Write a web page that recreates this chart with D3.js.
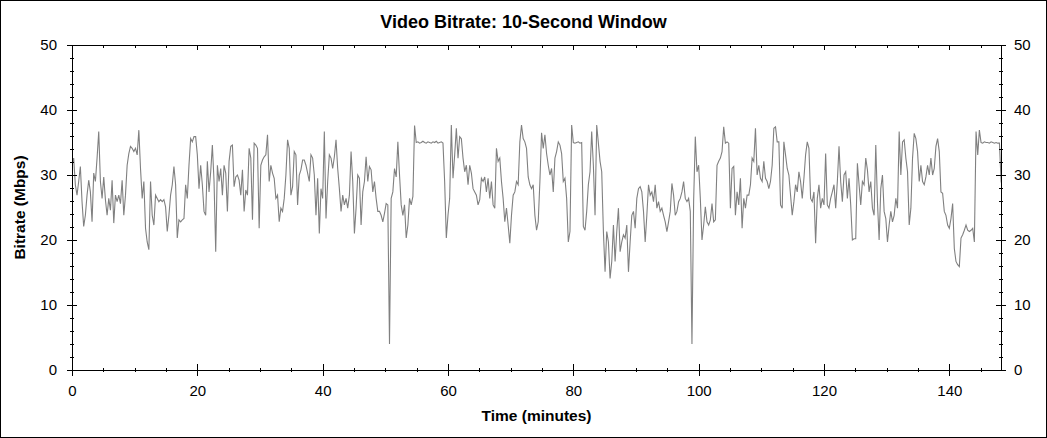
<!DOCTYPE html>
<html>
<head>
<meta charset="utf-8">
<script src="https://cdn.jsdelivr.net/npm/d3@7"></script>
<style>
    body { margin: 0; background: #fff; }
    svg { display: block; font-family: Arial, "Liberation Sans", sans-serif; }
</style>
</head>
<body>
<svg width="1047" height="438"></svg>
<script>
const svg = d3.select("svg");
const width = 1047;
const height = 438;

//////////// DATA ////////////

// one reading every 16 seconds (10-second window average), Mbps
const sampleSeconds = 16;
const bitrate = [
    31.5, 32.6, 28.5, 26.9, 29.0, 31.3, 25.9, 22.1, 23.8, 26.9,
    29.2, 27.4, 22.8, 30.3, 29.0, 32.6, 36.7, 29.0, 26.4, 29.7,
    26.2, 23.8, 26.4, 24.6, 29.2, 22.6, 26.9, 25.9, 26.9, 25.6,
    29.2, 23.8, 26.9, 31.5, 33.3, 34.4, 34.1, 33.6, 34.1, 33.1,
    36.9, 31.0, 26.4, 29.0, 21.8, 19.7, 18.5, 29.0, 23.8, 22.3,
    26.9, 26.4, 25.9, 26.2, 25.9, 26.2, 25.1, 21.3, 23.8, 26.9,
    28.5, 31.3, 28.5, 20.3, 23.1, 22.8, 23.1, 23.3, 28.5, 26.4,
    31.5, 35.6, 35.1, 35.9, 35.9, 33.1, 27.9, 31.5, 28.5, 24.4,
    23.8, 32.1, 27.4, 30.5, 34.6, 29.0, 18.2, 31.5, 29.0, 31.0,
    26.9, 31.5, 30.3, 24.4, 32.1,
    34.4, 34.6, 28.2, 29.7, 30.0, 29.2, 26.9, 30.8, 24.4, 27.7,
    26.9, 34.1, 32.6, 23.1, 34.9, 34.6, 34.1, 21.8, 31.5, 32.3,
    32.8, 33.1, 36.2, 29.0, 31.5, 30.3, 29.5, 26.4, 26.9, 22.8,
    24.9, 24.4, 26.4, 30.0, 35.4, 34.1, 26.9, 28.2, 33.6, 33.1,
    25.4, 30.0, 30.8, 32.3, 32.3, 31.5, 30.3, 29.0, 33.1, 32.6,
    30.0, 23.8, 29.5, 21.0, 27.9, 26.4, 36.7, 23.3, 29.0, 33.1,
    32.6, 31.0, 32.8, 35.4, 31.0, 27.9, 24.4, 26.9, 25.4, 26.4,
    24.9, 26.9, 33.6, 29.0, 21.0, 24.9, 30.0, 29.5, 22.3, 27.4,
    29.0, 32.8, 29.0, 31.3, 30.8, 27.4, 29.0, 26.4, 24.4, 24.4,
    23.8, 22.8, 24.1,
    25.6, 25.4, 4.0, 26.4, 27.4, 31.0, 29.7, 35.1, 30.0, 25.4,
    23.8, 25.4, 20.3, 22.3, 26.4, 25.4, 26.7, 37.6,
    35.0, 35.1, 34.9, 35.0, 35.2, 35.0, 34.9, 35.1, 35.0, 34.9,
    35.1, 35.0, 35.2, 34.9, 35.0, 35.1, 34.9,
    29.0, 20.3, 23.8, 26.4, 37.7, 29.5, 33.1, 37.2, 32.6, 35.9,
    35.6, 32.6, 30.5, 31.5, 28.5, 31.5, 30.3, 27.9, 27.4, 26.9,
    25.4, 26.2, 29.5, 29.0, 29.7, 27.4, 29.5, 26.4, 29.0, 25.4,
    24.9, 34.1, 32.1, 32.6, 29.0, 26.4, 22.8, 24.9, 22.3, 19.5,
    23.8, 26.9, 27.4, 29.0, 28.5, 35.1, 37.7, 35.6, 35.1, 34.1,
    29.7, 28.5, 27.9, 28.5, 23.8, 21.5, 22.8, 29.0,
    36.5, 34.1, 36.2, 33.3, 31.5, 30.0, 31.0, 27.4, 32.6, 33.6,
    35.1, 34.6, 33.3, 29.0, 29.5, 26.4, 19.7, 21.3, 37.7,
    35.0, 34.9, 35.0, 35.1, 34.9, 35.0,
    22.1, 21.5, 24.4, 28.5, 30.5, 36.7, 31.5, 23.8, 37.7, 34.9,
    32.1, 30.5, 21.3, 15.1, 21.3, 19.7, 14.1, 16.7, 22.3, 16.7,
    21.3, 24.9, 18.2, 19.7, 20.8, 20.3, 22.3, 15.1, 19.7, 23.8,
    24.4, 21.8, 26.4, 27.9, 28.2, 27.4, 24.4, 19.7, 23.8, 28.5,
    26.9, 27.4, 25.9, 28.5, 24.9, 25.9, 24.4, 24.9, 23.8, 22.8,
    21.3, 22.8, 24.4, 28.7, 26.9, 23.8, 24.4, 25.9, 26.4, 27.4,
    29.0, 26.4, 25.9, 26.4, 24.4, 4.0, 26.0, 35.9,
    30.5, 31.5, 26.4, 20.0, 22.3, 25.1, 22.8, 22.3, 23.1, 25.6,
    22.8, 23.1, 31.5, 32.1, 32.6, 33.6, 37.4, 34.9, 35.1, 34.9,
    24.9, 31.0, 31.3, 23.8, 27.4, 25.4, 29.5, 21.8, 26.4, 24.9,
    26.9, 26.9, 28.5, 32.6, 32.1, 37.2, 30.0, 31.5, 29.5, 29.0,
    32.1, 29.5, 29.0, 27.9, 29.0, 31.5, 37.2, 37.4, 35.1, 35.1,
    25.4, 24.9, 35.1, 33.1, 31.0, 30.0, 26.9, 23.8, 25.9, 28.5,
    27.4, 30.5, 29.0, 26.4, 29.5, 33.1, 35.1, 34.1, 26.4, 25.9,
    27.4, 19.5, 26.4, 28.5, 24.9, 26.4, 25.4, 33.3, 25.4, 24.9,
    26.4, 27.4, 28.5, 24.9, 29.0, 34.4, 29.0, 25.9, 30.0, 30.5,
    26.4, 29.5, 25.4,
    20.0, 20.2, 20.2, 31.8, 28.5, 25.4, 29.0, 28.5, 32.6, 30.8,
    27.4, 29.0, 24.9, 23.8, 34.6, 25.9, 20.0, 27.9, 30.0, 24.4,
    23.3, 19.7, 22.3, 24.4, 22.8, 23.8, 26.4, 24.9, 36.7, 30.0,
    35.1, 35.4, 32.6, 30.5, 22.3, 24.9, 32.6, 36.4, 35.6, 33.6,
    29.0, 31.5, 29.0, 28.5, 29.7, 31.5, 30.0, 32.6, 30.0, 31.0,
    34.4, 35.6, 33.6, 27.4, 27.2, 24.4, 23.8, 22.3, 21.8, 23.3,
    25.6, 18.7, 16.7, 16.2, 15.9, 20.3, 20.8, 21.5, 22.3, 21.5,
    21.3, 21.5, 21.8, 19.7, 36.7, 33.1, 36.9,
    35.0, 34.9, 35.1, 35.0, 35.0, 34.9, 35.1, 35.0, 34.9, 35.0,
    34.9, 34.9, 29.0, 27.9, 27.0
];

const xMax = 148.25;          // minutes
const xMajorTicks = [0, 20, 40, 60, 80, 100, 120, 140];
const yMajorTicks = [0, 10, 20, 30, 40, 50];
const xMinorTicks = d3.range(0, 146, 5).filter(d => d % 20 != 0);
const yMinorTicks = d3.range(0, 51, 2).filter(d => d % 10 != 0);

const title = "Video Bitrate: 10-Second Window";
const xLabel = "Time (minutes)";
const yLabel = "Bitrate (Mbps)";

//////////// SCALES ////////////

const plot = { left: 72, right: 1001, top: 45, bottom: 370 };

const x = d3.scaleLinear().domain([0, xMax]).range([plot.left, plot.right]);
const y = d3.scaleLinear().domain([0, 50]).range([plot.bottom, plot.top]);

//////////// DISPLAY ////////////

// outer border
svg.append("rect")
    .attr("x", 0.5).attr("y", 0.5)
    .attr("width", width - 1).attr("height", height - 1)
    .attr("fill", "#fff")
    .attr("stroke", "#000")
    .attr("shape-rendering", "crispEdges");

svg.append("clipPath")
    .attr("id", "plotclip")
    .append("rect")
    .attr("x", plot.left).attr("y", plot.top)
    .attr("width", plot.right - plot.left)
    .attr("height", plot.bottom - plot.top);

// the series
const line = d3.line()
    .x((d, i) => x(i * sampleSeconds / 60))
    .y(d => y(d));

svg.append("path")
    .datum(bitrate)
    .attr("clip-path", "url(#plotclip)")
    .attr("fill", "none")
    .attr("stroke", "#808080")
    .attr("stroke-width", 1.1)
    .attr("stroke-linejoin", "miter")
    .attr("d", line);

// frame
svg.append("rect")
    .attr("x", plot.left).attr("y", plot.top)
    .attr("width", plot.right - plot.left)
    .attr("height", plot.bottom - plot.top)
    .attr("fill", "none")
    .attr("stroke", "#000")
    .attr("shape-rendering", "crispEdges");

function styleAxis(g) {
    g.select(".domain").remove();
    g.attr("font-family", null).attr("font-size", 15);
    g.selectAll(".tick line").attr("shape-rendering", "crispEdges");
}

// bottom
svg.append("g")
    .attr("transform", `translate(0,${plot.bottom})`)
    .call(d3.axisBottom(x).tickValues(xMajorTicks).tickSize(6).tickPadding(9))
    .call(styleAxis)
    .call(g => g.selectAll(".tick line").attr("y1", -6));
svg.append("g")
    .attr("transform", `translate(0,${plot.bottom})`)
    .call(d3.axisBottom(x).tickValues(xMinorTicks).tickSize(2).tickFormat(""))
    .call(styleAxis)
    .call(g => g.selectAll(".tick line").attr("y1", -2));

// top (inside ticks only)
svg.append("g")
    .attr("transform", `translate(0,${plot.top})`)
    .call(d3.axisTop(x).tickValues(xMajorTicks).tickSize(-5).tickFormat(""))
    .call(styleAxis);
svg.append("g")
    .attr("transform", `translate(0,${plot.top})`)
    .call(d3.axisTop(x).tickValues(xMinorTicks).tickSize(-3).tickFormat(""))
    .call(styleAxis);

// left
svg.append("g")
    .attr("transform", `translate(${plot.left},0)`)
    .call(d3.axisLeft(y).tickValues(yMajorTicks).tickSize(5).tickPadding(10))
    .call(styleAxis)
    .call(g => g.selectAll(".tick line").attr("x1", 5));
svg.append("g")
    .attr("transform", `translate(${plot.left},0)`)
    .call(d3.axisLeft(y).tickValues(yMinorTicks).tickSize(2).tickFormat(""))
    .call(styleAxis)
    .call(g => g.selectAll(".tick line").attr("x1", 2));

// right
svg.append("g")
    .attr("transform", `translate(${plot.right},0)`)
    .call(d3.axisRight(y).tickValues(yMajorTicks).tickSize(5).tickPadding(8))
    .call(styleAxis)
    .call(g => g.selectAll(".tick line").attr("x1", -5));
svg.append("g")
    .attr("transform", `translate(${plot.right},0)`)
    .call(d3.axisRight(y).tickValues(yMinorTicks).tickSize(2).tickFormat(""))
    .call(styleAxis)
    .call(g => g.selectAll(".tick line").attr("x1", -2));

// titles
svg.append("text")
    .attr("x", width / 2)
    .attr("y", 28)
    .attr("text-anchor", "middle")
    .attr("font-size", 18)
    .attr("font-weight", "bold")
    .text(title);

svg.append("text")
    .attr("x", (plot.left + plot.right) / 2)
    .attr("y", 421)
    .attr("text-anchor", "middle")
    .attr("font-size", 15.5)
    .attr("font-weight", "bold")
    .text(xLabel);

svg.append("text")
    .attr("transform", `translate(24.5,${(plot.top + plot.bottom) / 2}) rotate(-90)`)
    .attr("text-anchor", "middle")
    .attr("font-size", 15.5)
    .attr("font-weight", "bold")
    .text(yLabel);
</script>
</body>
</html>
